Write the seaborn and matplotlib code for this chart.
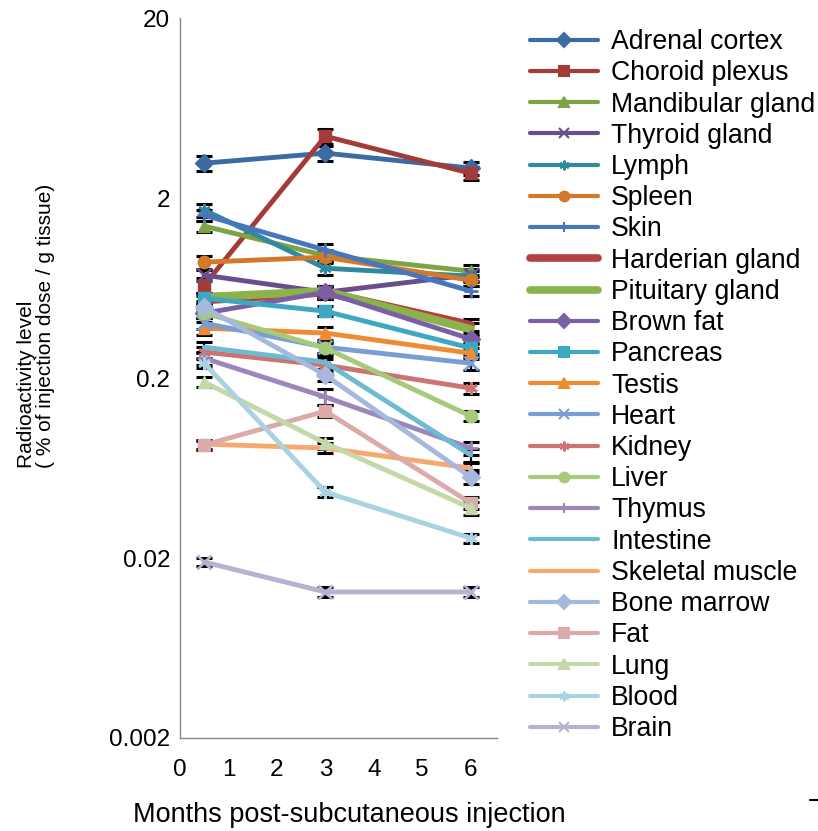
import numpy as np
import pandas as pd
import matplotlib
matplotlib.use("Agg")
import matplotlib.pyplot as plt
from matplotlib.lines import Line2D
import seaborn as sns

# Sampling times (months after injection)
months = [0.5, 3, 6]

tissues = [
    "Adrenal cortex", "Choroid plexus", "Mandibular gland", "Thyroid gland",
    "Lymph", "Spleen", "Skin", "Harderian gland", "Pituitary gland",
    "Brown fat", "Pancreas", "Testis", "Heart", "Kidney", "Liver", "Thymus",
    "Intestine", "Skeletal muscle", "Bone marrow", "Fat", "Lung", "Blood", "Brain",
]

# Radioactivity level (% of injection dose / g tissue) at 0.5, 3 and 6 months
adrenal_cortex = [3.13, 3.56, 2.94]
choroid_plexus = [0.657, 4.42, 2.75]
mandibular_gland = [1.40, 0.96, 0.786]
thyroid_gland = [0.747, 0.60, 0.75]
lymph = [1.72, 0.816, 0.738]
spleen = [0.882, 0.94, 0.70]
skin = [1.61, 1.03, 0.61]
harderian_gland = [0.542, 0.60, 0.394]
pituitary_gland = [0.564, 0.608, 0.374]
brown_fat = [0.459, 0.60, 0.33]
pancreas = [0.556, 0.471, 0.294]
testis = [0.379, 0.356, 0.275]
heart = [0.404, 0.297, 0.242]
kidney = [0.279, 0.236, 0.176]
liver = [0.46, 0.294, 0.123]
thymus = [0.258, 0.157, 0.0817]
intestine = [0.297, 0.245, 0.0747]
skeletal_muscle = [0.0859, 0.0817, 0.0632]
bone_marrow = [0.496, 0.208, 0.0564]
fat = [0.0849, 0.131, 0.0404]
lung = [0.190, 0.0871, 0.0379]
blood = [0.242, 0.0465, 0.0258]
brain = [0.0190, 0.01295, 0.01295]

# Standard errors
adrenal_cortex_err = [0.30, 0.34, 0.24]
choroid_plexus_err = [0.06, 0.42, 0.24]
mandibular_gland_err = [0.10, 0.07, 0.06]
thyroid_gland_err = [0.05, 0.05, 0.06]
lymph_err = [0.14, 0.07, 0.05]
spleen_err = [0.07, 0.07, 0.05]
skin_err = [0.12, 0.08, 0.04]
harderian_gland_err = [0.03, 0.04, 0.03]
pituitary_gland_err = [0.03, 0.04, 0.03]
brown_fat_err = [0.03, 0.05, 0.02]
pancreas_err = [0.04, 0.03, 0.02]
testis_err = [0.03, 0.03, 0.02]
heart_err = [0.03, 0.02, 0.02]
kidney_err = [0.02, 0.02, 0.012]
liver_err = [0.03, 0.02, 0.008]
thymus_err = [0.02, 0.016, 0.007]
intestine_err = [0.02, 0.02, 0.006]
skeletal_muscle_err = [0.005, 0.005, 0.004]
bone_marrow_err = [0.03, 0.016, 0.005]
fat_err = [0.005, 0.01, 0.003]
lung_err = [0.012, 0.006, 0.003]
blood_err = [0.015, 0.003, 0.0015]
brain_err = [0.001, 0.0008, 0.0008]

values = [adrenal_cortex, choroid_plexus, mandibular_gland, thyroid_gland, lymph,
          spleen, skin, harderian_gland, pituitary_gland, brown_fat, pancreas,
          testis, heart, kidney, liver, thymus, intestine, skeletal_muscle,
          bone_marrow, fat, lung, blood, brain]
errors = [adrenal_cortex_err, choroid_plexus_err, mandibular_gland_err,
          thyroid_gland_err, lymph_err, spleen_err, skin_err,
          harderian_gland_err, pituitary_gland_err, brown_fat_err, pancreas_err,
          testis_err, heart_err, kidney_err, liver_err, thymus_err,
          intestine_err, skeletal_muscle_err, bone_marrow_err, fat_err,
          lung_err, blood_err, brain_err]

colors = ["#3C6AA3", "#A33B38", "#7EA345", "#6A4E8C", "#31899E", "#D2792A",
          "#4677BE", "#B0413E", "#8CB24C", "#7B5FA5", "#3EA7C2", "#EE8C34",
          "#7A9ED4", "#CD7371", "#A7C97A", "#9C87BD", "#6DBAD2", "#F6A96F",
          "#A6B9DC", "#DBAAA9", "#C4D9A7", "#A9D3E1", "#BCB0D2"]
asterisk = (6, 2, 0)
markers = ["D", "s", "^", "x", asterisk, "o", "+", None, None, "D", "s", "^",
           "x", asterisk, "o", "+", None, None, "D", "s", "^", asterisk, "x"]
widths = [3.5] * 23
widths[7] = 6
widths[8] = 6

records = []
for name, vals, errs in zip(tissues, values, errors):
    for m, v, e in zip(months, vals, errs):
        records.append({"tissue": name, "month": m, "level": v, "err": e})
df = pd.DataFrame(records)

sns.set_theme(style="white")
plt.rcParams["font.family"] = ["Liberation Sans", "DejaVu Sans"]
plt.rcParams["text.color"] = "black"

fig = plt.figure(figsize=(8.18, 8.31), dpi=100)
ax = fig.add_axes([0.220, 0.112, 0.388, 0.866])

# Error bars first so the lines and markers sit on top
for name in tissues:
    sub = df[df["tissue"] == name]
    ax.errorbar(sub["month"], sub["level"], yerr=sub["err"], fmt="none",
                ecolor="black", elinewidth=1.6, capsize=6, capthick=2.2,
                zorder=1)

handles = []
for i, name in enumerate(tissues):
    sub = df[df["tissue"] == name]
    mk = markers[i]
    ms = 9 if mk not in ("+", "x") else 10
    sns.lineplot(data=sub, x="month", y="level", ax=ax, color=colors[i],
                 linewidth=widths[i], marker=mk, markersize=ms,
                 markeredgecolor=colors[i],
                 markeredgewidth=2 if mk in ("+", "x", asterisk) else 1,
                 legend=False, zorder=2 + i * 0.01, errorbar=None)
    handles.append(Line2D([0], [0], color=colors[i], lw=widths[i] - 0.5,
                          marker=mk, markersize=7, markeredgecolor=colors[i],
                          markeredgewidth=1.5, label=name))

ax.set_yscale("log")
ax.set_ylim(0.002, 20)
ax.set_xlim(0, 6.55)
ax.set_yticks([0.002, 0.02, 0.2, 2, 20])
ax.set_yticklabels(["0.002", "0.02", "0.2", "2", "20"])
ax.yaxis.set_minor_locator(matplotlib.ticker.NullLocator())
ax.set_xticks(range(0, 7))
ax.tick_params(axis="both", which="major", labelsize=17.5, direction="in",
               length=6, width=1, color="#888888", labelcolor="black")
ax.tick_params(axis="y", pad=7)
ax.tick_params(axis="x", pad=15)
ax.set_xlabel("")
ax.set_ylabel("")
for side in ("top", "right"):
    ax.spines[side].set_visible(False)
for side in ("left", "bottom"):
    ax.spines[side].set_color("#888888")
    ax.spines[side].set_linewidth(1)
ax.grid(False)

fig.text(0.427, 0.019, "Months post-subcutaneous injection", ha="center",
         va="center", fontsize=19.5)
fig.text(0.044, 0.608, "Radioactivity level\n( % of injection dose / g tissue)",
         ha="center", va="center", rotation=90,
         multialignment="left", fontsize=15, linespacing=1.0)

ax.legend(handles=handles, loc="upper left", bbox_to_anchor=(0.648, 0.965),
          bbox_transform=fig.transFigure, frameon=False, fontsize=19.2,
          handlelength=2.56, handletextpad=0.48, labelspacing=0.196,
          borderaxespad=0, borderpad=0)

fig.add_artist(Line2D([0.99, 1.0], [0.037, 0.037], color="black", lw=1.5,
                      transform=fig.transFigure))

fig.savefig("out.png", dpi=100)
